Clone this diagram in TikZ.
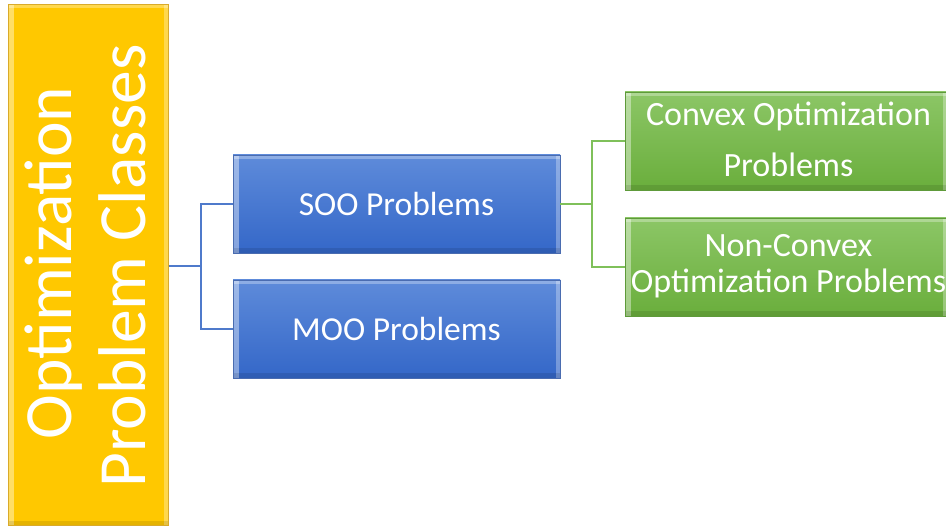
\documentclass[tikz,border=0pt]{standalone}
\usepackage{fontspec}
\setmainfont{Carlito}
\usetikzlibrary{shadings}
\definecolor{ygold}{HTML}{FFC800}
\definecolor{yedge}{HTML}{D9AA2A}
\definecolor{btop}{HTML}{5E8BDA}
\definecolor{bbot}{HTML}{3467C8}
\definecolor{bedge}{HTML}{4A6CB0}
\definecolor{gtop}{HTML}{8CC666}
\definecolor{gbot}{HTML}{6AAE3C}
\definecolor{gedge}{HTML}{5E9A3A}
\definecolor{bline}{HTML}{4F7ACB}
\definecolor{gline}{HTML}{7FC05A}
\tikzset{
  bevel/.style={path picture={
      \fill[white,opacity=.30] (path picture bounding box.north west) rectangle ([xshift=4pt,yshift=-4pt]path picture bounding box.north east);
      \fill[white,opacity=.40] (path picture bounding box.north west) rectangle ([xshift=6pt]path picture bounding box.south west);
      \fill[white,opacity=.30] ([xshift=-4pt]path picture bounding box.north east) rectangle (path picture bounding box.south east);
      \fill[black,opacity=.10] ([yshift=5pt]path picture bounding box.south west) rectangle (path picture bounding box.south east);
  }},
  bluebox/.style={rectangle, draw=bedge, line width=0.8pt, top color=btop, bottom color=bbot,
    minimum width=327pt, minimum height=98pt, inner sep=0pt, text=white,
    font=\fontsize{33.5}{40}\selectfont, bevel},
  greenbox/.style={rectangle, draw=gedge, line width=0.8pt, top color=gtop, bottom color=gbot,
    minimum width=322pt, minimum height=98pt, inner sep=0pt, bevel},
  greentext/.style={anchor=base, inner sep=0pt, text=white, font=\fontsize{34}{40}\selectfont},
  yellowbox/.style={rectangle, draw=yedge, line width=1pt, fill=ygold,
    minimum width=160pt, minimum height=521pt, inner sep=0pt, bevel},
  yellowtext/.style={anchor=base, rotate=90, inner sep=0pt, text=white, font=\fontsize{67.5}{74}\selectfont},
  bconn/.style={draw=bline, line width=1.2pt},
  gconn/.style={draw=gline, line width=1.2pt},
}
\begin{document}
\begin{tikzpicture}[x=1pt,y=-1pt]
  \useasboundingbox (0,0) rectangle (946,529);

  % root class box with its two rotated lines
  \node[yellowbox] (root) at (88,265) {};
  \node[yellowtext] (rootA) at (71,263) {Optimization};
  \node[yellowtext] (rootB) at (145,266) {Problem Classes};

  % first level
  \node[bluebox] (soo) at (396.5,204) {SOO Problems};
  \node[bluebox] (moo) at (396.5,329) {MOO Problems};

  % second level
  \node[greenbox] (cvx) at (786,141) {};
  \node[greentext] (cvxA) at (788.5,126) {Convex Optimization};
  \node[greentext] (cvxB) at (788.5,177) {Problems};
  \node[greenbox] (ncvx) at (786,267) {};
  \node[greentext] (ncvxA) at (788.5,257) {Non-Convex};
  \node[greentext] (ncvxB) at (788.5,293) {Optimization Problems};

  % connectors
  \coordinate (j1) at (201,266);
  \coordinate (j2) at (592,204);
  \draw[bconn] (root.east |- j1) -- (j1);
  \draw[bconn] (soo.west) -- (j1 |- soo.west) -- (j1 |- moo.west) -- (moo.west);
  \draw[gconn] (soo.east) -- (j2);
  \draw[gconn] (cvx.west) -- (j2 |- cvx.west) -- (j2 |- ncvx.west) -- (ncvx.west);
\end{tikzpicture}
\end{document}
